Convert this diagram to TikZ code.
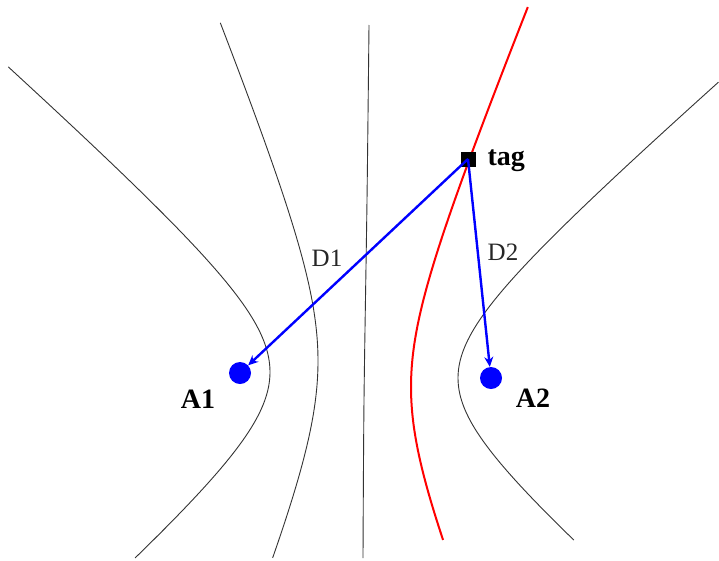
\documentclass[tikz,border=0pt]{standalone}
\usepackage{fontspec}
\setmainfont{Liberation Serif}
\usetikzlibrary{arrows.meta}
\begin{document}
\begin{tikzpicture}[x=1pt, y=-1pt,
	curve/.style={black!80, line width=0.9pt, smooth, samples=90},
	ray/.style={blue, line width=2.4pt, -{Stealth[length=10pt,width=9pt]}},
	anchorpt/.style={circle, fill=blue, inner sep=0pt, minimum size=22pt},
	lbl/.style={font=\fontsize{28}{30}\selectfont\bfseries},
	dlbl/.style={font=\fontsize{25}{28}\selectfont, text=black!85}]
		\useasboundingbox (0,0) rectangle (719,560);
		% Left hyperbola branches
		\draw[curve] plot[domain=-1.99:1.525, variable=\t] ({366-96*cosh(\t)},{372+85*sinh(\t)});
		\draw[curve] plot[domain=-1.775:1.285, variable=\t] ({366-48*cosh(\t)},{361+118*sinh(\t)});
		% Center line
		\draw[curve] plot coordinates {(369,25) (367,200) (364,400) (363,558)};
		% Right hyperbola branch
		\draw[curve] plot[domain=-2.019:1.455, variable=\t] ({366+92*cosh(\t)},{378+80*sinh(\t)});
		% Tag curve (red)
		\draw[curve, red, line width=2pt] plot[domain=-1.953:1.133, variable=\t] ({366+45*cosh(\t)},{387+110*sinh(\t)});
		% Anchors and tag
		\node[anchorpt] (A1) at (240,373) {};
		\node[anchorpt] (A2) at (491,378) {};
		\node[fill=black, inner sep=0pt, minimum size=15pt] (tag) at (468,159) {};
		\node[lbl, anchor=west] (taglbl) at (484,161) {tag};
		\node[lbl] (A1lbl) at (198,399) {A1};
		\node[lbl] (A2lbl) at (533,398) {A2};
		% Distances
		\draw[ray] (tag.center) -- (A1);
		\draw[ray] (tag.center) -- (A2);
		\node[dlbl] (D1) at (327,258) {D1};
		\node[dlbl] (D2) at (503,252) {D2};
	\end{tikzpicture}
\end{document}
